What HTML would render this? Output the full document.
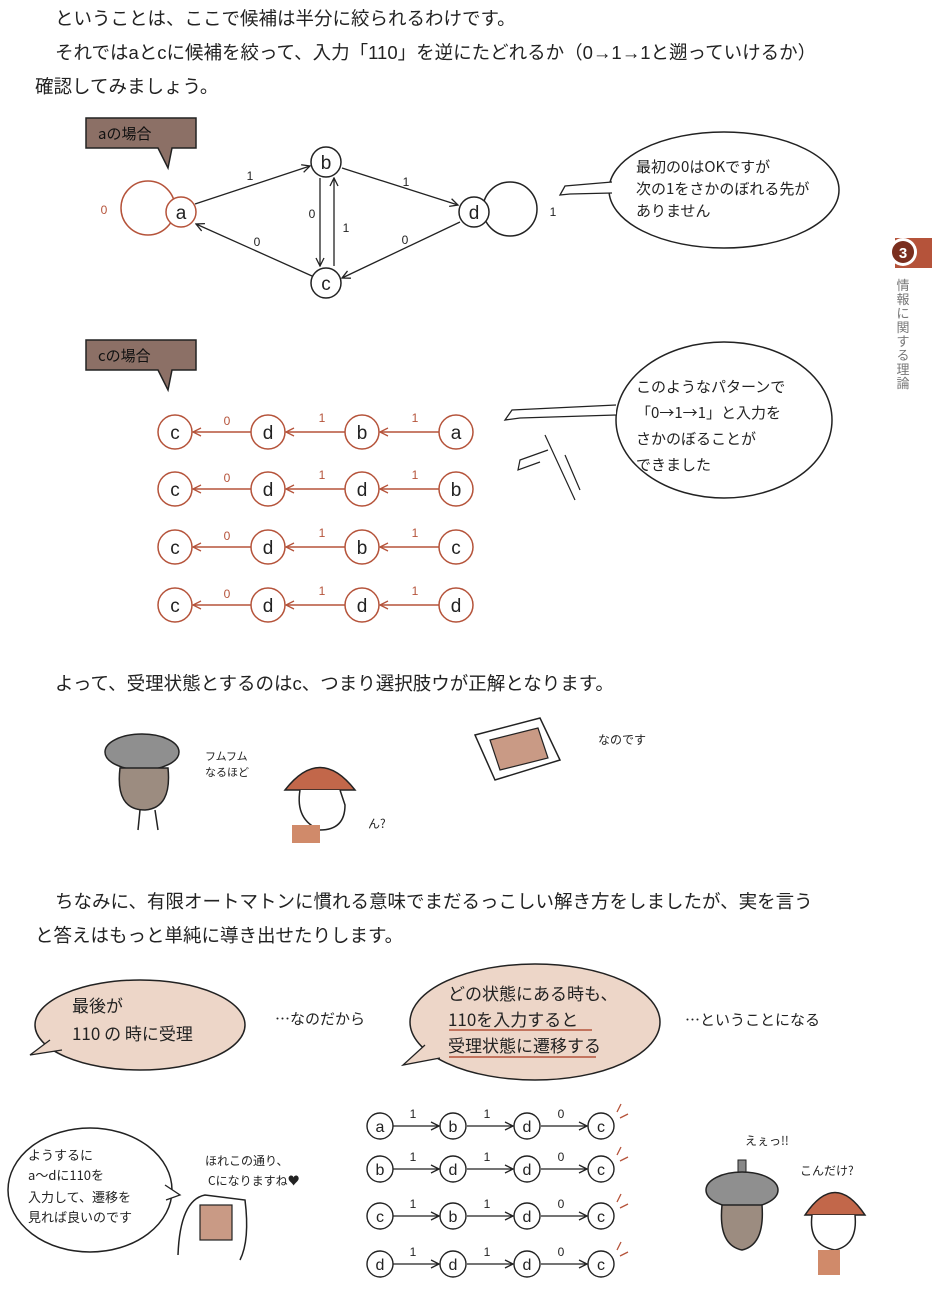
<!DOCTYPE html>
<html><head><meta charset="utf-8"><style>
body{margin:0;background:#fff;width:932px;height:1304px;overflow:hidden}
svg{display:block}
.t{font-family:"Liberation Sans","Noto Sans CJK JP",sans-serif;font-size:18.5px;fill:#222}
.h{font-family:"Noto Sans CJK JP",sans-serif;font-size:15px;fill:#222}
.n{font-family:"Liberation Sans",sans-serif;font-size:19px;fill:#222;text-anchor:middle}
.s{font-family:"Liberation Sans",sans-serif;font-size:12px;fill:#222;text-anchor:middle}
.v{font-family:"Noto Sans CJK JP",sans-serif;font-size:13px;fill:#777;text-anchor:middle}
</style></head><body>
<svg width="932" height="1304" viewBox="0 0 932 1304" xmlns="http://www.w3.org/2000/svg">
<defs>
<marker id="ak" markerWidth="10" markerHeight="10" refX="9" refY="5" orient="auto" markerUnits="userSpaceOnUse"><path d="M1,1 L9,5 L1,9" fill="none" stroke="#222" stroke-width="1.3"/></marker>
<marker id="ar" markerWidth="10" markerHeight="10" refX="9" refY="5" orient="auto" markerUnits="userSpaceOnUse"><path d="M1,1 L9,5 L1,9" fill="none" stroke="#b5533a" stroke-width="1.3"/></marker>
</defs>
<text class="t" x="55" y="25">ということは、ここで候補は半分に絞られるわけです。</text>
<text class="t" x="55" y="59">それではaとcに候補を絞って、入力「110」を逆にたどれるか（0→1→1と遡っていけるか）</text>
<text class="t" x="35" y="93">確認してみましょう。</text>

<!-- tab -->
<rect x="895" y="238" width="37" height="30" fill="#b5533a"/>
<circle cx="903" cy="252" r="14" fill="#fff"/>
<circle cx="903" cy="252" r="11" fill="#7a2e1e"/>
<text x="903" y="258" font-family="Liberation Sans" font-weight="bold" font-size="15" fill="#fff" text-anchor="middle">3</text>
<text class="v" x="903" y="290">情</text>
<text class="v" x="903" y="304">報</text>
<text class="v" x="903" y="318">に</text>
<text class="v" x="903" y="332">関</text>
<text class="v" x="903" y="346">す</text>
<text class="v" x="903" y="360">る</text>
<text class="v" x="903" y="374">理</text>
<text class="v" x="903" y="388">論</text>

<!-- label a -->
<path d="M86,118 H196 V148 H172 L168,168 L158,148 H86 Z" fill="#8c7066" stroke="#222" stroke-width="1.5"/>
<text class="h" x="98" y="139" style="fill:#111">aの場合</text>
<!-- graph -->
<circle cx="148" cy="208" r="27" fill="none" stroke="#b5533a" stroke-width="1.5"/>
<text class="s" x="104" y="214" style="fill:#b5533a">0</text>
<circle cx="510" cy="209" r="27" fill="none" stroke="#222" stroke-width="1.5"/>
<text class="s" x="553" y="216">1</text>
<line x1="195" y1="204" x2="310" y2="166" stroke="#222" stroke-width="1.3" marker-end="url(#ak)"/>
<line x1="342" y1="168" x2="458" y2="205" stroke="#222" stroke-width="1.3" marker-end="url(#ak)"/>
<line x1="320" y1="178" x2="320" y2="266" stroke="#222" stroke-width="1.3" marker-end="url(#ak)"/>
<line x1="334" y1="266" x2="334" y2="178" stroke="#222" stroke-width="1.3" marker-end="url(#ak)"/>
<line x1="312" y1="276" x2="196" y2="224" stroke="#222" stroke-width="1.3" marker-end="url(#ak)"/>
<line x1="460" y1="222" x2="342" y2="278" stroke="#222" stroke-width="1.3" marker-end="url(#ak)"/>
<text class="s" x="250" y="180">1</text><text class="s" x="406" y="186">1</text>
<text class="s" x="312" y="218">0</text><text class="s" x="346" y="232">1</text>
<text class="s" x="257" y="246">0</text><text class="s" x="405" y="244">0</text>
<g fill="#fff" stroke-width="1.5">
<circle cx="181" cy="212" r="15" stroke="#b5533a"/>
<circle cx="326" cy="162" r="15" stroke="#222"/>
<circle cx="326" cy="283" r="15" stroke="#222"/>
<circle cx="474" cy="212" r="15" stroke="#222"/>
</g>
<text class="n" x="181" y="219">a</text><text class="n" x="326" y="169">b</text><text class="n" x="326" y="290">c</text><text class="n" x="474" y="219">d</text>
<!-- bubble 1 -->
<ellipse cx="724" cy="190" rx="115" ry="58" fill="#fff" stroke="#222" stroke-width="1.5"/>
<path d="M612,182 L565,186 L560,195 L570,194 L612,193" fill="#fff" stroke="#222" stroke-width="1.3"/>
<text class="h" x="636" y="172">最初の0はOKですが</text>
<text class="h" x="636" y="194">次の1をさかのぼれる先が</text>
<text class="h" x="636" y="216">ありません</text>

<!-- label c -->
<path d="M86,340 H196 V370 H172 L168,390 L158,370 H86 Z" fill="#8c7066" stroke="#222" stroke-width="1.5"/>
<text class="h" x="98" y="361" style="fill:#111">cの場合</text>
<!-- chains -->
<g stroke="#b5533a" stroke-width="1.5">
<line x1="439" y1="432" x2="380" y2="432" marker-end="url(#ar)"/><line x1="345" y1="432" x2="286" y2="432" marker-end="url(#ar)"/><line x1="251" y1="432" x2="193" y2="432" marker-end="url(#ar)"/>
<line x1="439" y1="489" x2="380" y2="489" marker-end="url(#ar)"/><line x1="345" y1="489" x2="286" y2="489" marker-end="url(#ar)"/><line x1="251" y1="489" x2="193" y2="489" marker-end="url(#ar)"/>
<line x1="439" y1="547" x2="380" y2="547" marker-end="url(#ar)"/><line x1="345" y1="547" x2="286" y2="547" marker-end="url(#ar)"/><line x1="251" y1="547" x2="193" y2="547" marker-end="url(#ar)"/>
<line x1="439" y1="605" x2="380" y2="605" marker-end="url(#ar)"/><line x1="345" y1="605" x2="286" y2="605" marker-end="url(#ar)"/><line x1="251" y1="605" x2="193" y2="605" marker-end="url(#ar)"/>
</g>
<g fill="#fff" stroke="#b5533a" stroke-width="1.5">
<circle cx="175" cy="432" r="17"/><circle cx="268" cy="432" r="17"/><circle cx="362" cy="432" r="17"/><circle cx="456" cy="432" r="17"/>
<circle cx="175" cy="489" r="17"/><circle cx="268" cy="489" r="17"/><circle cx="362" cy="489" r="17"/><circle cx="456" cy="489" r="17"/>
<circle cx="175" cy="547" r="17"/><circle cx="268" cy="547" r="17"/><circle cx="362" cy="547" r="17"/><circle cx="456" cy="547" r="17"/>
<circle cx="175" cy="605" r="17"/><circle cx="268" cy="605" r="17"/><circle cx="362" cy="605" r="17"/><circle cx="456" cy="605" r="17"/>
</g>
<text class="n" x="175" y="439">c</text><text class="n" x="268" y="439">d</text><text class="n" x="362" y="439">b</text><text class="n" x="456" y="439">a</text>
<text class="n" x="175" y="496">c</text><text class="n" x="268" y="496">d</text><text class="n" x="362" y="496">d</text><text class="n" x="456" y="496">b</text>
<text class="n" x="175" y="554">c</text><text class="n" x="268" y="554">d</text><text class="n" x="362" y="554">b</text><text class="n" x="456" y="554">c</text>
<text class="n" x="175" y="612">c</text><text class="n" x="268" y="612">d</text><text class="n" x="362" y="612">d</text><text class="n" x="456" y="612">d</text>
<text class="s" x="227" y="425" style="fill:#b5533a">0</text><text class="s" x="322" y="422" style="fill:#b5533a">1</text><text class="s" x="415" y="422" style="fill:#b5533a">1</text>
<text class="s" x="227" y="482" style="fill:#b5533a">0</text><text class="s" x="322" y="479" style="fill:#b5533a">1</text><text class="s" x="415" y="479" style="fill:#b5533a">1</text>
<text class="s" x="227" y="540" style="fill:#b5533a">0</text><text class="s" x="322" y="537" style="fill:#b5533a">1</text><text class="s" x="415" y="537" style="fill:#b5533a">1</text>
<text class="s" x="227" y="598" style="fill:#b5533a">0</text><text class="s" x="322" y="595" style="fill:#b5533a">1</text><text class="s" x="415" y="595" style="fill:#b5533a">1</text>
<!-- bubble 2 -->
<ellipse cx="724" cy="420" rx="108" ry="78" fill="#fff" stroke="#222" stroke-width="1.5"/>
<path d="M616,405 L512,410 L505,420 L520,418 L616,415" fill="#fff" stroke="#222" stroke-width="1.3"/>
<path d="M548,450 L520,460 L518,470 L540,462 M545,435 L575,500 M565,455 L580,490" fill="none" stroke="#222" stroke-width="1.2"/>
<text class="h" x="636" y="392">このようなパターンで</text>
<text class="h" x="636" y="418">「0→1→1」と入力を</text>
<text class="h" x="636" y="444">さかのぼることが</text>
<text class="h" x="636" y="470">できました</text>

<text class="t" x="55" y="690">よって、受理状態とするのはc、つまり選択肢ウが正解となります。</text>

<!-- characters middle -->
<ellipse cx="142" cy="752" rx="37" ry="18" fill="#8f8f8f" stroke="#222" stroke-width="1.5"/>
<path d="M120,768 Q115,810 145,810 Q172,808 168,768 Z" fill="#9c8c80" stroke="#222" stroke-width="1.5"/>
<path d="M140,810 L138,830 M155,810 L158,830" stroke="#222" stroke-width="1.5"/>
<text class="h" x="205" y="760" style="font-size:11px">フムフム</text>
<text class="h" x="205" y="776" style="font-size:11px">なるほど</text>
<path d="M285,790 Q320,745 355,790 Z" fill="#c2674a" stroke="#222" stroke-width="1.5"/>
<path d="M300,790 Q295,820 320,830 Q345,830 345,805 L340,790" fill="#fff" stroke="#222" stroke-width="1.5"/>
<rect x="292" y="825" width="28" height="18" fill="#d08a6a"/>
<text class="h" x="368" y="828" style="font-size:12px">ん?</text>
<path d="M475,735 L540,718 L560,760 L495,780 Z" fill="#fff" stroke="#222" stroke-width="1.5"/>
<path d="M490,740 L538,728 L548,758 L500,770 Z" fill="#c99a85" stroke="#222" stroke-width="1.2"/>
<text class="h" x="598" y="744" style="font-size:12px">なのです</text>

<text class="t" x="55" y="908">ちなみに、有限オートマトンに慣れる意味でまだるっこしい解き方をしましたが、実を言う</text>
<text class="t" x="35" y="942">と答えはもっと単純に導き出せたりします。</text>

<!-- peach bubbles -->
<ellipse cx="140" cy="1025" rx="105" ry="45" fill="#edd6c8" stroke="#222" stroke-width="1.5"/>
<path d="M50,1040 L30,1055 L62,1050" fill="#edd6c8" stroke="#222" stroke-width="1.3"/>
<text class="h" x="72" y="1012" style="font-size:17px">最後が</text>
<text class="h" x="72" y="1040" style="font-size:17px">110 の 時に受理</text>
<text class="h" x="275" y="1024" style="font-size:15px">…なのだから</text>
<ellipse cx="535" cy="1022" rx="125" ry="58" fill="#edd6c8" stroke="#222" stroke-width="1.5"/>
<path d="M425,1045 L403,1065 L440,1058" fill="#edd6c8" stroke="#222" stroke-width="1.3"/>
<text class="h" x="448" y="1000" style="font-size:17px">どの状態にある時も、</text>
<text class="h" x="448" y="1026" style="font-size:17px">110を入力すると</text>
<text class="h" x="448" y="1052" style="font-size:17px">受理状態に遷移する</text>
<line x1="449" y1="1030" x2="592" y2="1030" stroke="#b5533a" stroke-width="1.5"/>
<line x1="449" y1="1057" x2="596" y2="1057" stroke="#b5533a" stroke-width="1.5"/>
<text class="h" x="685" y="1025" style="font-size:15px">…ということになる</text>

<!-- bottom-left bubble -->
<ellipse cx="90" cy="1190" rx="82" ry="62" fill="#fff" stroke="#222" stroke-width="1.5"/>
<path d="M165,1185 L180,1195 L166,1200" fill="#fff" stroke="#222" stroke-width="1.3"/>
<text class="h" x="28" y="1160" style="font-size:13px">ようするに</text>
<text class="h" x="28" y="1180" style="font-size:13px">a～dに110を</text>
<text class="h" x="28" y="1202" style="font-size:13px">入力して、遷移を</text>
<text class="h" x="28" y="1222" style="font-size:13px">見れば良いのです</text>
<text class="h" x="205" y="1165" style="font-size:12px">ほれこの通り、</text>
<text class="h" x="208" y="1185" style="font-size:12px">Cになりますね♥</text>
<path d="M178,1255 Q180,1200 205,1195 L245,1200 Q250,1240 240,1260" fill="#fff" stroke="#222" stroke-width="1.5"/>
<rect x="200" y="1205" width="32" height="35" fill="#c99a85" stroke="#222" stroke-width="1.2"/>

<!-- small chains -->
<g stroke="#222" stroke-width="1.3">
<line x1="393" y1="1126" x2="439" y2="1126" marker-end="url(#ak)"/><line x1="467" y1="1126" x2="513" y2="1126" marker-end="url(#ak)"/><line x1="541" y1="1126" x2="587" y2="1126" marker-end="url(#ak)"/>
<line x1="393" y1="1169" x2="439" y2="1169" marker-end="url(#ak)"/><line x1="467" y1="1169" x2="513" y2="1169" marker-end="url(#ak)"/><line x1="541" y1="1169" x2="587" y2="1169" marker-end="url(#ak)"/>
<line x1="393" y1="1216" x2="439" y2="1216" marker-end="url(#ak)"/><line x1="467" y1="1216" x2="513" y2="1216" marker-end="url(#ak)"/><line x1="541" y1="1216" x2="587" y2="1216" marker-end="url(#ak)"/>
<line x1="393" y1="1264" x2="439" y2="1264" marker-end="url(#ak)"/><line x1="467" y1="1264" x2="513" y2="1264" marker-end="url(#ak)"/><line x1="541" y1="1264" x2="587" y2="1264" marker-end="url(#ak)"/>
</g>
<g fill="#fff" stroke="#222" stroke-width="1.4">
<circle cx="380" cy="1126" r="13"/><circle cx="453" cy="1126" r="13"/><circle cx="527" cy="1126" r="13"/><circle cx="601" cy="1126" r="13"/>
<circle cx="380" cy="1169" r="13"/><circle cx="453" cy="1169" r="13"/><circle cx="527" cy="1169" r="13"/><circle cx="601" cy="1169" r="13"/>
<circle cx="380" cy="1216" r="13"/><circle cx="453" cy="1216" r="13"/><circle cx="527" cy="1216" r="13"/><circle cx="601" cy="1216" r="13"/>
<circle cx="380" cy="1264" r="13"/><circle cx="453" cy="1264" r="13"/><circle cx="527" cy="1264" r="13"/><circle cx="601" cy="1264" r="13"/>
</g>
<text class="n" style="font-size:16px" x="380" y="1132">a</text><text class="n" style="font-size:16px" x="453" y="1132">b</text><text class="n" style="font-size:16px" x="527" y="1132">d</text><text class="n" style="font-size:16px" x="601" y="1132">c</text>
<text class="n" style="font-size:16px" x="380" y="1175">b</text><text class="n" style="font-size:16px" x="453" y="1175">d</text><text class="n" style="font-size:16px" x="527" y="1175">d</text><text class="n" style="font-size:16px" x="601" y="1175">c</text>
<text class="n" style="font-size:16px" x="380" y="1222">c</text><text class="n" style="font-size:16px" x="453" y="1222">b</text><text class="n" style="font-size:16px" x="527" y="1222">d</text><text class="n" style="font-size:16px" x="601" y="1222">c</text>
<text class="n" style="font-size:16px" x="380" y="1270">d</text><text class="n" style="font-size:16px" x="453" y="1270">d</text><text class="n" style="font-size:16px" x="527" y="1270">d</text><text class="n" style="font-size:16px" x="601" y="1270">c</text>
<text class="s" x="413" y="1118">1</text><text class="s" x="487" y="1118">1</text><text class="s" x="561" y="1118">0</text>
<text class="s" x="413" y="1161">1</text><text class="s" x="487" y="1161">1</text><text class="s" x="561" y="1161">0</text>
<text class="s" x="413" y="1208">1</text><text class="s" x="487" y="1208">1</text><text class="s" x="561" y="1208">0</text>
<text class="s" x="413" y="1256">1</text><text class="s" x="487" y="1256">1</text><text class="s" x="561" y="1256">0</text>
<g stroke="#b5533a" stroke-width="1.3">
<path d="M617,1112 L621,1104 M620,1118 L628,1114"/><path d="M617,1155 L621,1147 M620,1161 L628,1157"/>
<path d="M617,1202 L621,1194 M620,1208 L628,1204"/><path d="M617,1250 L621,1242 M620,1256 L628,1252"/>
</g>

<!-- bottom-right characters -->
<text class="h" x="745" y="1145" style="font-size:12px">えぇっ!!</text>
<text class="h" x="800" y="1175" style="font-size:12px">こんだけ?</text>
<rect x="738" y="1160" width="8" height="20" fill="#888" stroke="#222"/>
<ellipse cx="742" cy="1190" rx="36" ry="18" fill="#8f8f8f" stroke="#222" stroke-width="1.5"/>
<path d="M722,1205 Q718,1245 742,1250 Q765,1245 762,1205 Z" fill="#9c8c80" stroke="#222" stroke-width="1.5"/>
<path d="M805,1215 Q835,1170 865,1215 Z" fill="#c2674a" stroke="#222" stroke-width="1.5"/>
<path d="M812,1215 Q808,1245 835,1250 Q858,1245 855,1215" fill="#fff" stroke="#222" stroke-width="1.5"/>
<rect x="818" y="1250" width="22" height="25" fill="#d08a6a"/>
</svg>
</body></html>
